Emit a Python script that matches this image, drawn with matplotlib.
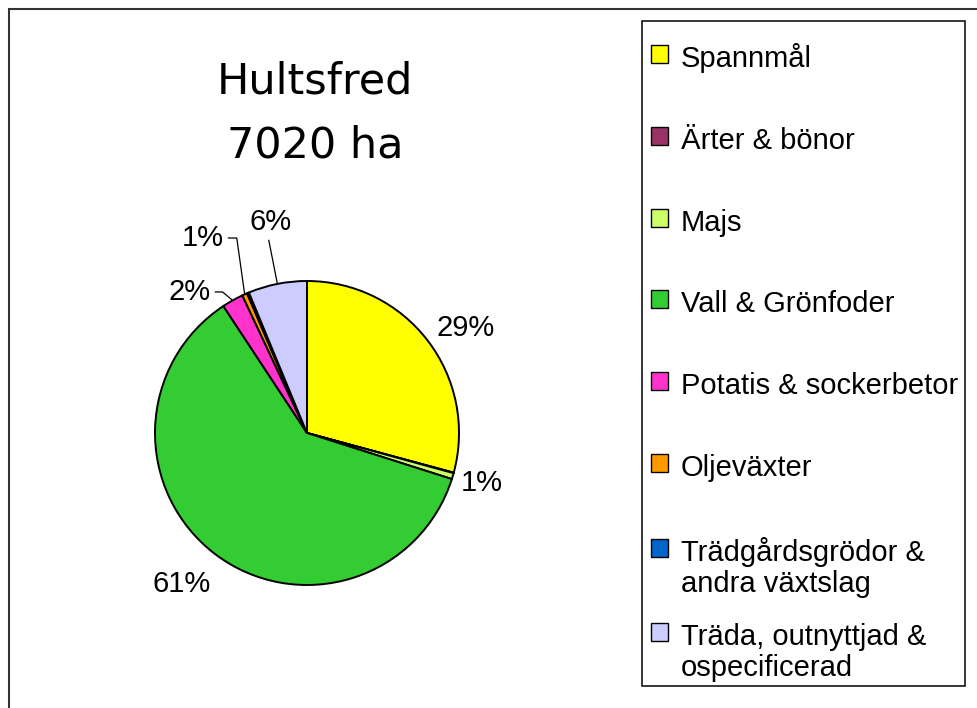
import matplotlib.pyplot as plt
import numpy as np
from matplotlib.patches import Rectangle

# data (hectares)
categories = ["Spannmål", "Ärter & bönor", "Majs", "Vall & Grönfoder",
              "Potatis & sockerbetor", "Oljeväxter",
              "Trädgårdsgrödor &\nandra växtslag",
              "Träda, outnyttjad &\nospecificerad"]
hectares = [2050, 4, 45, 4270, 160, 38, 15, 438]
colors = ["#FFFF00", "#993366", "#CCFF66", "#33CC33",
          "#FF33CC", "#FF9900", "#0066CC", "#CCCCFF"]
title_lines = ["Hultsfred", "7020 ha"]

# layout (pixels of a 978x708 canvas)
W, H = 978, 708
cx, cy, r_px = 307, 433, 152
# label centre in pie units, and leader style (None, "line" or angle of 2nd segment)
label_pos = {0: ((1.046, 0.691), None),
             2: ((1.151, -0.329), None),
             3: ((-0.822, -0.993), None),
             4: ((-0.770, 0.928), -40),
             5: ((-0.684, 1.283), -82),
             7: ((-0.243, 1.388), "line")}
legend_baselines = [67, 149, 231, 312, 394, 476, 561, 645]
line_gap = 31

fig = plt.figure(figsize=(W / 100, H / 100), dpi=100)

# outer chart border (only left and top edges are inside the picture)
fig.add_artist(Rectangle((8.5 / W, -0.1), 2, 1.1 - 9.5 / H, fill=False,
                         ec="#333333", lw=1.5, transform=fig.transFigure))

half = 1.6 * r_px
ax = fig.add_axes([(cx - half) / W, (H - cy - half) / H, 2 * half / W, 2 * half / H])
wedges, _ = ax.pie(hectares, colors=colors, startangle=90, counterclock=False,
                   radius=1, wedgeprops=dict(edgecolor="black", linewidth=1.4))
ax.set_xlim(-1.6, 1.6)
ax.set_ylim(-1.6, 1.6)
ax.set_aspect("equal")
ax.axis("off")

total = sum(hectares)
for i, ((lx, ly), leader) in label_pos.items():
    txt = f"{round(100 * hectares[i] / total):.0f}%"
    w = wedges[i]
    mid = np.deg2rad((w.theta1 + w.theta2) / 2)
    anchor = (np.cos(mid), np.sin(mid))
    kw = dict(ha="center", va="center", fontsize=21, family="Liberation Sans")
    if leader is None:
        ax.text(lx, ly, txt, **kw)
    elif leader == "line":
        ax.annotate(txt, xy=anchor, xytext=(lx, ly), **kw,
                    arrowprops=dict(arrowstyle="-", color="black", lw=0.9,
                                    shrinkA=1, shrinkB=0, relpos=(0.45, 0)))
    else:
        ax.annotate(txt, xy=anchor, xytext=(lx, ly), **kw,
                    arrowprops=dict(arrowstyle="-", color="black", lw=0.9,
                                    shrinkA=1, shrinkB=0, relpos=(1, 0.5),
                                    connectionstyle=f"angle,angleA=0,angleB={leader},rad=0"))

# title
for line, base in zip(title_lines, [93, 158]):
    fig.text(315 / W, 1 - base / H, line, ha="center", va="baseline",
             fontsize=31, family="DejaVu Sans")

# legend box
fig.add_artist(Rectangle((642 / W, 1 - 686 / H), (965 - 642) / W, (686 - 21) / H,
                         fill=False, ec="black", lw=1.1, transform=fig.transFigure))
for name, col, base in zip(categories, colors, legend_baselines):
    fig.add_artist(Rectangle((651 / W, 1 - (base - 4) / H), 17 / W, 18 / H,
                             fc=col, ec="black", lw=1.0, transform=fig.transFigure))
    for k, part in enumerate(name.split("\n")):
        fig.text(681 / W, 1 - (base + k * line_gap) / H, part, ha="left",
                 va="baseline", fontsize=21, family="Liberation Sans")

fig.savefig("out.png", dpi=100, facecolor="white")
